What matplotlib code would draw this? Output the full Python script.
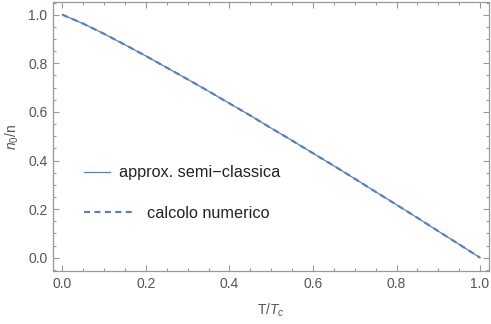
import numpy as np
import matplotlib
matplotlib.use("Agg")
import matplotlib.pyplot as plt
from matplotlib.ticker import MultipleLocator

plt.rcParams['font.family'] = ['Liberation Sans', 'DejaVu Sans']
plt.rcParams['mathtext.fontset'] = 'custom'
plt.rcParams['mathtext.it'] = 'Liberation Sans:italic'
plt.rcParams['mathtext.rm'] = 'Liberation Sans'

# values (T/Tc, n0/n)
t_ratio = [0.00, 0.05, 0.10, 0.15, 0.20, 0.25, 0.30, 0.35, 0.40, 0.45, 0.50,
           0.55, 0.60, 0.65, 0.70, 0.75, 0.80, 0.85, 0.90, 0.95, 1.00]
semi_classic = [1.000, 0.963, 0.921, 0.876, 0.830, 0.782, 0.734, 0.685, 0.635, 0.585, 0.533,
                0.482, 0.430, 0.378, 0.325, 0.271, 0.218, 0.164, 0.109, 0.055, 0.000]
numeric = [1.000, 0.963, 0.921, 0.876, 0.830, 0.782, 0.734, 0.685, 0.635, 0.585, 0.533,
           0.482, 0.430, 0.378, 0.325, 0.271, 0.218, 0.164, 0.109, 0.055, 0.000]

blue = '#5E81B5'
frame_col = '#999999'
text_col = '#555555'

fig = plt.figure(figsize=(4.91, 3.24), dpi=100)
ax = fig.add_axes([0.108, 0.1636, 0.888, 0.830])

l1, = ax.plot(t_ratio, semi_classic, color=blue, lw=0.9, label='approx. semi\u2212classica')
l2, = ax.plot(t_ratio, numeric, color=blue, lw=1.6, ls=(0, (2.7, 2.0)), label='calcolo numerico')

ax.set_xlim(-0.0225, 1.0215)
ax.set_ylim(-0.0547, 1.052)

ax.xaxis.set_major_locator(MultipleLocator(0.2))
ax.xaxis.set_minor_locator(MultipleLocator(0.05))
ax.yaxis.set_major_locator(MultipleLocator(0.2))
ax.yaxis.set_minor_locator(MultipleLocator(0.05))
ax.xaxis.set_major_formatter(lambda v, p: f"{v:.1f}")
ax.yaxis.set_major_formatter(lambda v, p: f"{v:.1f}")

ax.tick_params(which='both', direction='in', top=True, right=True,
               color=frame_col, labelcolor=text_col, labelsize=10, width=0.8)
ax.tick_params(which='major', length=4.5, pad=4)
ax.tick_params(which='minor', length=2.5)
ax.tick_params(axis='x', labeltop=False)
ax.tick_params(axis='y', labelright=False)
for s in ax.spines.values():
    s.set_color(frame_col)
    s.set_linewidth(0.9)

ax.set_xlabel(r'T/$T_c$', color=text_col, fontsize=10, labelpad=8)
ax.set_ylabel(r'$n_0$/n', color=text_col, fontsize=10, labelpad=5)

# two legends: the handles have different lengths in the reference
leg_kw = dict(loc='center left', frameon=False, fontsize=11.7, borderpad=0,
              borderaxespad=0, bbox_transform=fig.transFigure, labelcolor='#222222')
leg1 = ax.legend([l1], [l1.get_label()], bbox_to_anchor=(84 / 491, 1 - 172.7 / 324),
                 handlelength=1.6, handletextpad=0.57, **leg_kw)
ax.add_artist(leg1)
ax.legend([l2], [l2.get_label()], bbox_to_anchor=(84 / 491, 1 - 213.3 / 324),
          handlelength=3.14, handletextpad=0.72, **leg_kw)

fig.savefig('out.png', dpi=100)
